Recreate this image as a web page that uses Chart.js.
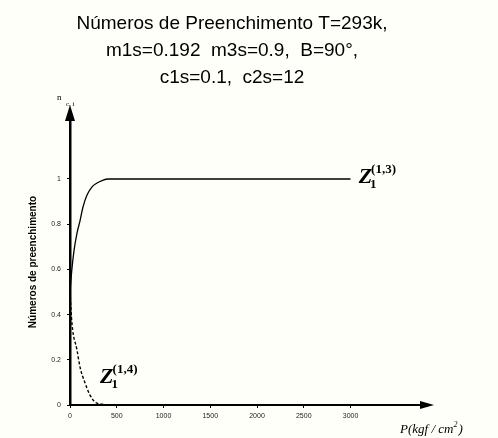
<!DOCTYPE html>
<html>
<head>
<meta charset="utf-8">
<script src="https://cdn.jsdelivr.net/npm/chart.js@4.4.1/dist/chart.umd.min.js"></script>
<style>
  html, body { margin: 0; padding: 0; background: #fffffa; }
  #wrap { width: 498px; height: 438px; }
</style>
</head>
<body>
<div id="wrap"><canvas id="fillChart"></canvas></div>
<script>
// data
var titleLines = ['Números de Preenchimento T=293k,', 'm1s=0.192  m3s=0.9,  B=90°,', 'c1s=0.1,  c2s=12'];
var xTicks = [0, 500, 1000, 1500, 2000, 2500, 3000];
var yTicks = [0, 0.2, 0.4, 0.6, 0.8, 1];

// Z1(1,3) - rising curve
var upperX = [0, 20, 45, 75, 107, 139, 182, 236, 289, 343, 407, 3000];
var upperY = [0.5, 0.6, 0.69, 0.761, 0.815, 0.876, 0.929, 0.965, 0.982, 0.993, 1.0, 1.0];
// Z1(1,4) - falling curve
var lowerX = [0, 21, 75, 107, 161, 214, 268, 343, 407];
var lowerY = [0.5, 0.36, 0.243, 0.168, 0.097, 0.044, 0.013, 0.004, 0];

function toPoints(xs, ys) {
    return xs.map(function(x, i) { return { x: x, y: ys[i] }; });
}

// title, arrows, axis names and curve labels
var decorPlugin = {
    id: 'decor',
    afterDraw: function(chart) {
        var ctx = chart.ctx;
        var xs = chart.scales.x, ys = chart.scales.y;
        var ca = chart.chartArea;
        ctx.save();
        ctx.fillStyle = '#000';

        // title
        ctx.font = '19px "Liberation Sans", Arial, sans-serif';
        ctx.textAlign = 'center';
        ctx.textBaseline = 'alphabetic';
        ctx.fillText(titleLines[0], 232, 29);
        ctx.fillText(titleLines[1], 232, 56);
        ctx.fillText(titleLines[2], 232, 83);

        // arrows
        ctx.beginPath();
        ctx.moveTo(ca.left, ca.top - 8);
        ctx.lineTo(ca.left - 5, ca.top + 8);
        ctx.lineTo(ca.left + 5, ca.top + 8);
        ctx.closePath();
        ctx.fill();
        ctx.beginPath();
        ctx.moveTo(ca.right + 4, ca.bottom);
        ctx.lineTo(ca.right - 10, ca.bottom - 4);
        ctx.lineTo(ca.right - 10, ca.bottom + 4);
        ctx.closePath();
        ctx.fill();

        // y axis name
        ctx.save();
        ctx.translate(33, 262);
        ctx.rotate(-Math.PI / 2);
        ctx.font = 'bold 10px "Liberation Sans", Arial, sans-serif';
        ctx.textAlign = 'center';
        ctx.textBaseline = 'middle';
        ctx.fillText('Números de preenchimento', 0, 0);
        ctx.restore();

        // top axis symbol
        ctx.textAlign = 'left';
        ctx.font = '9px "Liberation Serif", serif';
        ctx.fillText('n', 57, 100);
        ctx.font = '7px "Liberation Serif", serif';
        ctx.fillText('c, i', 66, 106);

        // x axis name
        ctx.font = 'italic 13px "Liberation Serif", serif';
        ctx.fillText('P(kgf / cm', 400, 433);
        var w = ctx.measureText('P(kgf / cm').width;
        ctx.font = 'italic 8px "Liberation Serif", serif';
        ctx.fillText('2', 400 + w, 427);
        ctx.font = 'italic 13px "Liberation Serif", serif';
        ctx.fillText(')', 405 + w, 433);

        // curve labels
        function zLabel(xv, yv, sup) {
            var px = xs.getPixelForValue(xv), py = ys.getPixelForValue(yv);
            ctx.font = 'bold italic 22px "Liberation Serif", serif';
            ctx.fillText('Z', px, py);
            var zw = ctx.measureText('Z').width;
            ctx.font = 'bold 13px "Liberation Serif", serif';
            ctx.fillText('1', px + zw - 2, py + 5);
            ctx.fillText(sup, px + zw - 1, py - 10);
        }
        zLabel(3087, 0.982, '(1,3)');
        zLabel(322, 0.097, '(1,4)');
        ctx.restore();
    }
};

var ctx = document.getElementById('fillChart').getContext('2d');
var fillChart = new Chart(ctx, {
    type: 'line',
    data: {
        datasets: [{
            label: 'Z1(1,3)',
            data: toPoints(upperX, upperY),
            borderColor: '#000',
            borderWidth: 1.3,
            pointRadius: 0,
            cubicInterpolationMode: 'monotone',
            fill: false
        }, {
            label: 'Z1(1,4)',
            data: toPoints(lowerX, lowerY),
            borderColor: '#000',
            borderWidth: 1.4,
            borderDash: [3, 2],
            pointRadius: 0,
            cubicInterpolationMode: 'monotone',
            fill: false
        }]
    },
    options: {
        responsive: true,
        maintainAspectRatio: false,
        animation: false,
        layout: { padding: { top: 113, right: 68, left: 0, bottom: 0 } },
        plugins: {
            legend: { display: false },
            title: { display: false },
            tooltip: { enabled: false }
        },
        scales: {
            x: {
                type: 'linear',
                min: 0,
                max: 3850,
                afterBuildTicks: function(scale) {
                    scale.ticks = xTicks.map(function(v) { return { value: v }; });
                },
                afterFit: function(scale) { scale.height = 33; },
                ticks: {
                    color: '#222',
                    font: { size: 7, family: '"Liberation Sans", Arial, sans-serif' },
                    padding: 4,
                    maxRotation: 0,
                    autoSkip: false,
                    callback: function(v) { return String(v); }
                },
                grid: { drawOnChartArea: false, drawTicks: true, tickLength: 3, color: '#000' },
                border: { color: '#000', width: 2 }
            },
            y: {
                type: 'linear',
                min: 0,
                max: 1.292,
                afterBuildTicks: function(scale) {
                    scale.ticks = yTicks.map(function(v) { return { value: v }; });
                },
                afterFit: function(scale) { scale.width = 70; },
                ticks: {
                    color: '#222',
                    font: { size: 7, family: '"Liberation Sans", Arial, sans-serif' },
                    padding: 6,
                    autoSkip: false,
                    callback: function(v) { return v === 0 || v === 1 ? String(v) : v.toFixed(1); }
                },
                grid: { drawOnChartArea: false, drawTicks: true, tickLength: 3, color: '#000' },
                border: { color: '#000', width: 2.5 }
            }
        }
    },
    plugins: [decorPlugin]
});
</script>
</body>
</html>
